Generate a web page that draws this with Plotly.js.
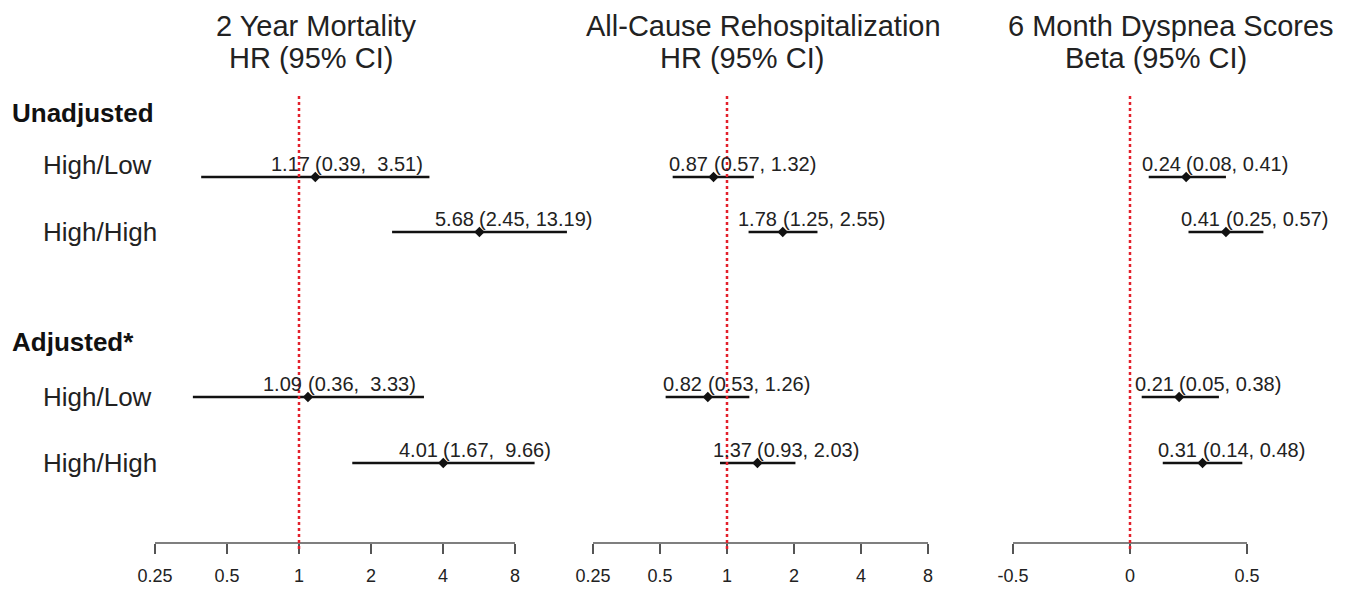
<!DOCTYPE html>
<html>
<head>
<meta charset="utf-8">
<script src="https://cdn.plot.ly/plotly-3.0.1.min.js"></script>
<style>html,body{margin:0;padding:0;background:#fff;}#chart{width:1353px;height:595px;}</style>
</head>
<body>
<div id="chart"></div>
<script>
// ---- data ----
const outcomes = ['2 Year Mortality', 'All-Cause Rehospitalization', '6 Month Dyspnea Scores'];
const measures = ['HR (95% CI)', 'HR (95% CI)', 'Beta (95% CI)'];
const groups = ['Unadjusted', 'Adjusted*'];
const comparisons = ['High/Low', 'High/High', 'High/Low', 'High/High'];
const mortEst = [1.17, 5.68, 1.09, 4.01];
const mortLo = [0.39, 2.45, 0.36, 1.67];
const mortHi = [3.51, 13.19, 3.33, 9.66];
const rehospEst = [0.87, 1.78, 0.82, 1.37];
const rehospLo = [0.57, 1.25, 0.53, 0.93];
const rehospHi = [1.32, 2.55, 1.26, 2.03];
const dyspEst = [0.24, 0.41, 0.21, 0.31];
const dyspLo = [0.08, 0.25, 0.05, 0.14];
const dyspHi = [0.41, 0.57, 0.38, 0.48];
const ratioTicks = [0.25, 0.5, 1, 2, 4, 8];
const ratioTickLabels = ['0.25', '0.5', '1', '2', '4', '8'];
const betaTicks = [-0.5, 0, 0.5];
const betaTickLabels = ['-0.5', '0', '0.5'];

// ---- layout helpers ----
const W = 1353, H = 595, TOP = 95, BOTTOM = 543;
const FONT = 'Liberation Sans, Arial, Helvetica, sans-serif';
const TXT = '#222';
const rowY = [1.464, 2.446, 5.393, 6.571];
const labelY = [1.25, 2.45, 5.39, 6.57];
const headerY = [0.32, 4.41];

const panels = [
  {est: mortEst, lo: mortLo, hi: mortHi, log: true, ticks: ratioTicks, labels: ratioTickLabels, ref: 1,
   dom: [140, 575], anchor: [299, 72], title: [316, 311]},
  {est: rehospEst, lo: rehospLo, hi: rehospHi, log: true, ticks: ratioTicks, labels: ratioTickLabels, ref: 1,
   dom: [580, 950], anchor: [727, 67], title: [763, 742]},
  {est: dyspEst, lo: dyspLo, hi: dyspHi, log: false, ticks: betaTicks, labels: betaTickLabels, ref: 0,
   dom: [1000, 1300], anchor: [1130, 234], title: [1171, 1156]}
];

function axisRange(p) {
  const [zeroPx, perUnit] = p.anchor;
  const a = (p.dom[0] - zeroPx) / perUnit, b = (p.dom[1] - zeroPx) / perUnit;
  return p.log ? [a * Math.LOG10E * Math.LN2, b * Math.LOG10E * Math.LN2] : [a, b];
}
// annotations on log axes take log10 positions
function annX(p, v) { return p.log ? Math.log10(v) : v; }
// paper y (inside margins) from a pixel row of the page
function paperY(px) { return (BOTTOM - px) / (BOTTOM - TOP); }

const traces = [], shapes = [], annotations = [];
const layout = {
  width: W, height: H, margin: {l: 0, r: 0, t: TOP, b: H - BOTTOM, pad: 0},
  paper_bgcolor: '#fff', plot_bgcolor: 'rgba(0,0,0,0)', showlegend: false,
  font: {family: FONT, color: TXT},
  yaxis: {range: [8, 0], autorange: false, showgrid: false, zeroline: false, showline: false,
          showticklabels: false, ticks: '', fixedrange: true}
};

panels.forEach((p, i) => {
  const xid = i === 0 ? 'x' : 'x' + (i + 1);
  const axName = i === 0 ? 'xaxis' : 'xaxis' + (i + 1);
  layout[axName] = {
    type: p.log ? 'log' : 'linear', domain: [p.dom[0] / W, p.dom[1] / W], range: axisRange(p),
    autorange: false, anchor: 'y', showgrid: false, zeroline: false, showline: false,
    tickmode: 'array', tickvals: p.ticks, ticktext: p.labels, ticks: 'outside', ticklen: 10,
    tickwidth: 1.5, tickcolor: '#555', tickfont: {family: FONT, size: 18, color: TXT},
    ticklabelstandoff: 6, fixedrange: true
  };
  // axis line from first to last tick (shapes take data values)
  shapes.push({type: 'line', xref: xid, yref: 'y domain', x0: p.ticks[0], x1: p.ticks[p.ticks.length - 1],
               y0: 0, y1: 0, line: {color: '#555', width: 1.5}});
  // reference line
  shapes.push({type: 'line', xref: xid, yref: 'y domain', x0: p.ref, x1: p.ref,
               y0: -6 / (BOTTOM - TOP), y1: 1, line: {color: '#e3202b', width: 2.5, dash: 'dot'}});
  // CI segments
  const xs = [], ys = [];
  p.est.forEach((e, k) => { xs.push(p.lo[k], p.hi[k], null); ys.push(rowY[k], rowY[k], null); });
  traces.push({type: 'scatter', mode: 'lines', x: xs, y: ys, xaxis: xid, yaxis: 'y',
               line: {color: '#111', width: 2.6}, hoverinfo: 'skip'});
  traces.push({type: 'scatter', mode: 'markers', x: p.est, y: rowY, xaxis: xid, yaxis: 'y',
               marker: {symbol: 'diamond', size: 8, color: '#111'}, cliponaxis: false});
  // value labels
  const hiStr = p.hi.map(v => v.toFixed(2));
  const wid = Math.max(...hiStr.map(s => s.length));
  p.est.forEach((e, k) => {
    const pad = '\u00a0'.repeat(wid - hiStr[k].length);
    annotations.push({xref: xid, yref: 'y', x: annX(p, e), y: rowY[k], text: e.toFixed(2),
      xanchor: 'right', yanchor: 'middle', xshift: -3.6, yshift: 13, showarrow: false,
      font: {family: FONT, size: 20, color: TXT}});
    annotations.push({xref: xid, yref: 'y', x: annX(p, e), y: rowY[k],
      text: '(' + p.lo[k].toFixed(2) + ',\u00a0' + pad + hiStr[k] + ')',
      xanchor: 'left', yanchor: 'middle', xshift: -2, yshift: 13, showarrow: false,
      font: {family: FONT, size: 20, color: TXT}});
  });
  // titles
  annotations.push({xref: 'paper', yref: 'paper', x: p.title[0] / W, y: paperY(26), text: outcomes[i],
    xanchor: 'center', yanchor: 'middle', showarrow: false, font: {family: FONT, size: 29, color: TXT}});
  annotations.push({xref: 'paper', yref: 'paper', x: p.title[1] / W, y: paperY(58), text: measures[i],
    xanchor: 'center', yanchor: 'middle', showarrow: false, font: {family: FONT, size: 29, color: TXT}});
});

// row labels
groups.forEach((g, j) => {
  annotations.push({xref: 'paper', yref: 'y', x: 10 / W, y: headerY[j], text: '<b>' + g + '</b>',
    xanchor: 'left', yanchor: 'middle', showarrow: false, font: {family: FONT, size: 26, color: '#111'}});
});
comparisons.forEach((c, k) => {
  annotations.push({xref: 'paper', yref: 'y', x: 41 / W, y: labelY[k], text: c,
    xanchor: 'left', yanchor: 'middle', showarrow: false, font: {family: FONT, size: 26, color: TXT}});
});

layout.shapes = shapes;
layout.annotations = annotations;
Plotly.newPlot('chart', traces, layout, {displayModeBar: false, staticPlot: true});
</script>
</body>
</html>
